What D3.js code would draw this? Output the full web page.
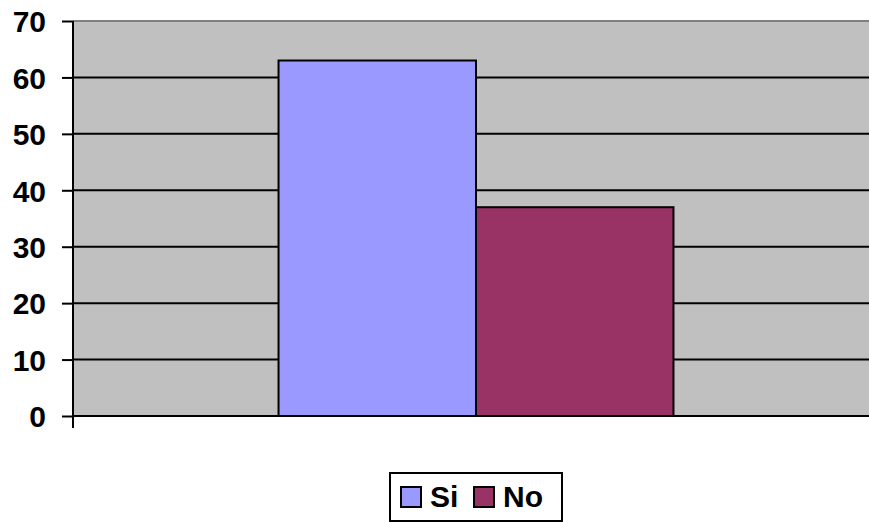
<!DOCTYPE html>
<html>
<head>
<meta charset="utf-8">
<script src="https://cdn.jsdelivr.net/npm/d3@7"></script>
<style>
  body { margin: 0; background: #fff; }
  text { font-family: "Liberation Sans", Arial, sans-serif; font-weight: bold; }
</style>
</head>
<body>
<div id="chart"></div>
<script>
var series = ["Si", "No"]
var values = [63, 37]
var colors = ["#9999FF", "#993366"]
var yTicks = [0, 10, 20, 30, 40, 50, 60, 70]

var width = 869, height = 522
var margin = { top: 21, right: -10, bottom: 106, left: 73 }
var plotW = width - margin.left - margin.right
var plotH = height - margin.top - margin.bottom

const svg = d3.select("#chart")
    .append("svg")
    .attr("width", width)
    .attr("height", height)

var g = svg.append("g")
    .attr("transform", `translate(${margin.left},${margin.top})`)

var y = d3.scaleLinear().domain([0, 70]).range([plotH, 0])
var x = d3.scaleBand().domain(series).range([plotW * 0.255, plotW * 0.745])

// plot background
g.append("rect")
    .attr("width", plotW)
    .attr("height", plotH)
    .attr("fill", "#C0C0C0")

g.append("line")
    .attr("x1", 0).attr("x2", plotW)
    .attr("y1", 0).attr("y2", 0)
    .attr("stroke", "#808080")
    .attr("stroke-width", 2)

// grid lines
g.selectAll(".grid")
    .data(yTicks.filter(d => d > 0 && d < 70))
    .enter()
    .append("line")
    .attr("x1", 0).attr("x2", plotW)
    .attr("y1", d => y(d)).attr("y2", d => y(d))
    .attr("stroke", "#000")
    .attr("stroke-width", 2)

// bars
g.selectAll(".bar")
    .data(values)
    .enter()
    .append("rect")
    .attr("x", (d, i) => x(series[i]))
    .attr("y", d => y(d))
    .attr("width", x.bandwidth())
    .attr("height", d => plotH - y(d))
    .attr("fill", (d, i) => colors[i])
    .attr("stroke", "#000")
    .attr("stroke-width", 2)

// y axis
var yAxis = g.append("g")
    .call(d3.axisLeft(y).tickValues(yTicks).tickSize(11).tickPadding(16))
yAxis.select(".domain").attr("stroke-width", 2).attr("d", `M0,0V${plotH}`)
yAxis.selectAll(".tick line").attr("stroke-width", 2)
yAxis.selectAll("text")
    .style("font-size", "30px")
    .attr("fill", "#000")
    .attr("dy", "0.36em")

// x axis line with tick at left edge
g.append("line")
    .attr("x1", 0).attr("x2", plotW)
    .attr("y1", plotH).attr("y2", plotH)
    .attr("stroke", "#000").attr("stroke-width", 2)
g.append("line")
    .attr("x1", 0).attr("x2", 0)
    .attr("y1", plotH).attr("y2", plotH + 12)
    .attr("stroke", "#000").attr("stroke-width", 2)

// legend
var legend = svg.append("g").attr("transform", "translate(390,473)")
legend.append("rect")
    .attr("width", 172)
    .attr("height", 48)
    .attr("fill", "#fff")
    .attr("stroke", "#000")
    .attr("stroke-width", 2)

var item = legend.selectAll(".item")
    .data(series)
    .enter()
    .append("g")
    .attr("transform", (d, i) => `translate(${11 + i * 73},14)`)
item.append("rect")
    .attr("width", 20)
    .attr("height", 20)
    .attr("fill", (d, i) => colors[i])
    .attr("stroke", "#000")
    .attr("stroke-width", 2)
item.append("text")
    .attr("x", 29)
    .attr("y", 20)
    .style("font-size", "30px")
    .text(d => d)
</script>
</body>
</html>
